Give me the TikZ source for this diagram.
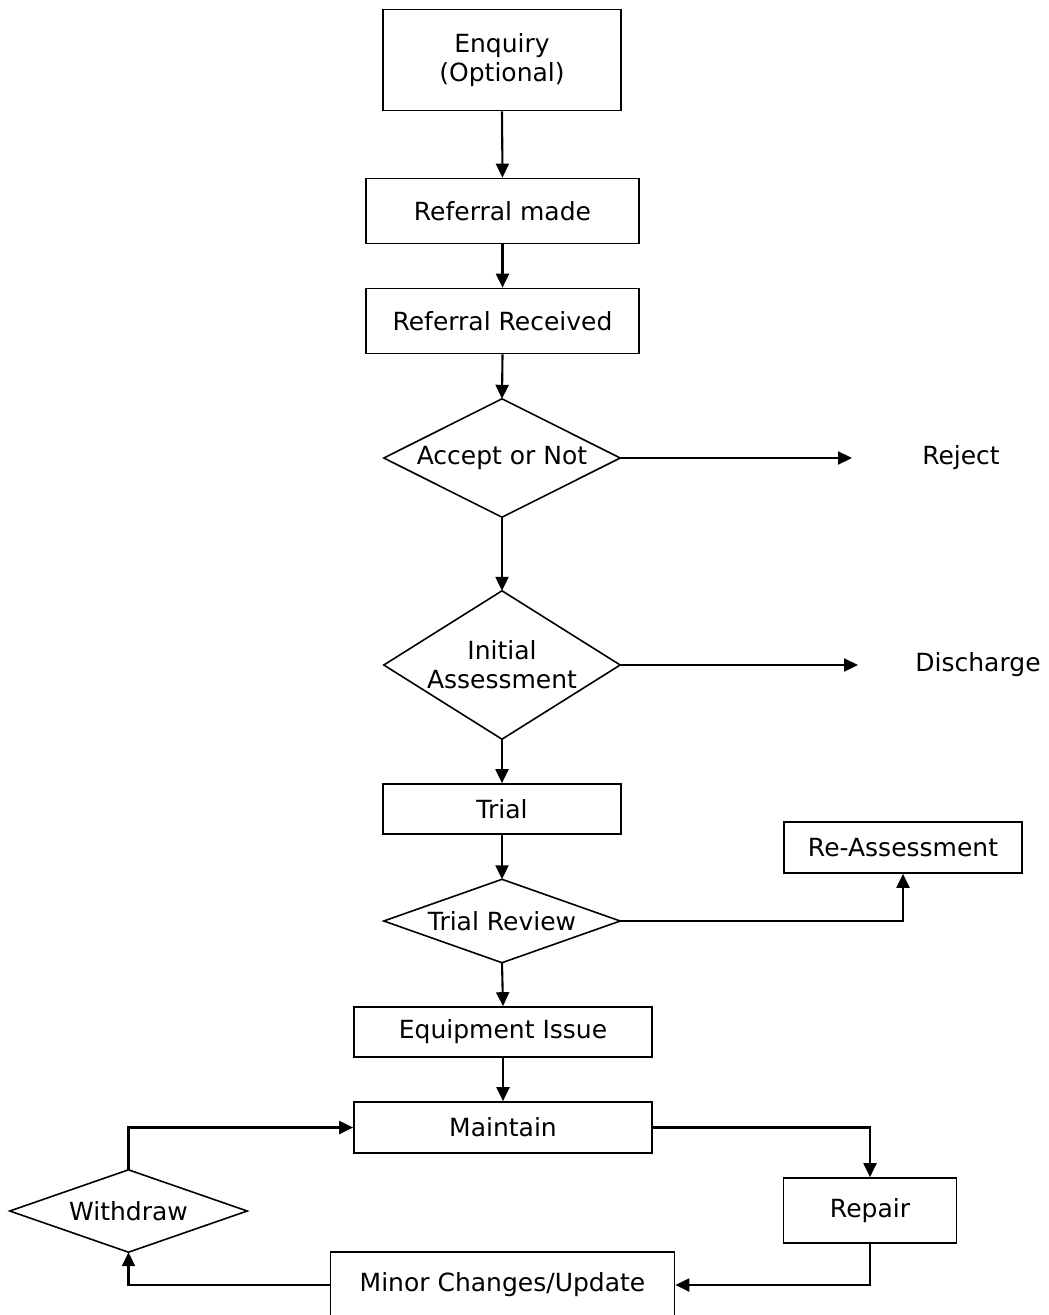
\documentclass[tikz,border=0pt]{standalone}
\usepackage{fontspec}
\setmainfont{DejaVu Sans}
\usetikzlibrary{arrows.meta}
\begin{document}
\begin{tikzpicture}[x=1bp,y=-1bp,
  every node/.style={font=\fontsize{25bp}{29bp}\selectfont, inner sep=0pt, align=center},
  box/.style={draw, line width=1.7bp, minimum width=#1},
  dia/.style={minimum width=#1},
  lbl/.style={},
  conn/.style={line width=2.1bp, -{Triangle[length=14bp,width=13bp]}}]
\useasboundingbox (0,0) rectangle (1048,1315);
\clip (0,0) rectangle (1048,1315);
\node[box=238bp, minimum height=101bp] (enq) at (502,60) {Enquiry\\(Optional)};
\node[box=273bp, minimum height=65bp] (rm) at (502.5,211) {Referral made};
\node[box=273bp, minimum height=65bp] (rr) at (502.5,321) {Referral Received};
\node[dia=236bp, minimum height=118bp] (acc) at (502,458) {Accept or Not};
\node[dia=236bp, minimum height=148bp] (ia) at (502,665) {Initial\\Assessment};
\node[box=238bp, minimum height=50bp] (trial) at (502,809) {Trial};
\node[dia=236bp, minimum height=83bp] (tr) at (502,921) {Trial Review};
\node[box=298bp, minimum height=50bp] (eq) at (503,1032) {Equipment Issue};
\node[box=298bp, minimum height=51bp] (mt) at (503,1127.5) {Maintain};
\node[box=238bp, minimum height=51bp] (ra) at (903,847.5) {Re-Assessment};
\node[box=173bp, minimum height=65bp] (rep) at (870,1210.5) {Repair};
\node[box=344bp, minimum height=66bp] (mc) at (502.5,1285) {Minor Changes/Update};
\node[dia=237bp, minimum height=82bp] (wd) at (128.5,1211) {Withdraw};
\node[lbl] (rej) at (961,458) {Reject};
\node[lbl] (dis) at (978,665) {Discharge};
\coordinate (rejend) at (852,458);
\coordinate (disend) at (858,665);
\foreach \d in {acc,ia,tr,wd}
  \draw[line width=1.6bp, line join=miter] (\d.north) -- (\d.east) -- (\d.south) -- (\d.west) -- cycle;
\draw[conn] (enq.south) -- (rm.north);
\draw[conn] (rm.south) -- (rr.north);
\draw[conn] (rr.south) -- (acc.north);
\draw[conn] (acc.east) -- (rejend);
\draw[conn] (acc.south) -- (ia.north);
\draw[conn] (ia.east) -- (disend);
\draw[conn] (ia.south) -- (trial.north);
\draw[conn] (trial.south) -- (tr.north);
\draw[conn] (tr.east) -| (ra.south);
\draw[conn] (tr.south) -- (eq.north);
\draw[conn] (eq.south) -- (mt.north);
\draw[conn] (mt.east) -| (rep.north);
\draw[conn] (rep.south) |- (mc.east);
\draw[conn] (mc.west) -| (wd.south);
\draw[conn] (wd.north) |- (mt.west);
\end{tikzpicture}
\end{document}
